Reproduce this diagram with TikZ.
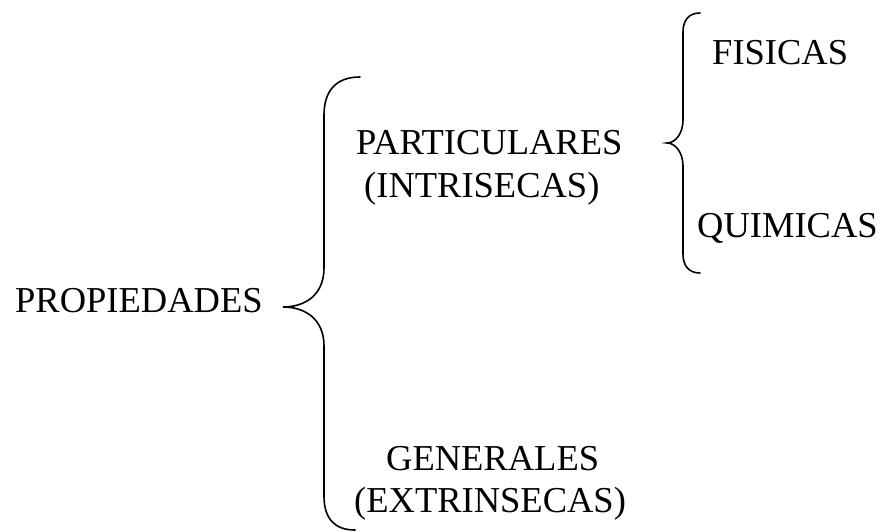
\documentclass[tikz,border=0pt]{standalone}
\usepackage{fontspec}
\setmainfont{Liberation Serif}
\begin{document}
\begin{tikzpicture}[x=1pt,y=-1pt,
  lbl/.style={anchor=base west,inner sep=0pt,font=\fontsize{36.5}{42}\selectfont},
  brace/.style={line width=1.6pt,line cap=round}]
\useasboundingbox (0,0) rectangle (889,532);
\node[lbl] (prop) at (15,312) {PROPIEDADES};
\node[lbl] (part) at (356,154) {PARTICULARES};
\node[lbl] (intr) at (364,197) {(INTRISECAS)};
\node[lbl] (fis) at (712,65) {FISICAS};
\node[lbl] (quim) at (697,237) {QUIMICAS};
\node[lbl] (gen) at (386,470) {GENERALES};
\node[lbl] (extr) at (354,512) {(EXTRINSECAS)};
% big brace
\coordinate (b1tip) at (283,307);
\draw[brace] (360,77) .. controls (335,77) and (324,92) .. (324,115)
  -- (324,268) .. controls (324,295) and (305,307) .. (b1tip)
  .. controls (305,307) and (324,319) .. (324,346)
  -- (324,496) .. controls (324,519) and (335,530) .. (355,530);
% small brace
\coordinate (b2tip) at (667,143);
\draw[brace] (700,13) .. controls (689,13) and (683,20) .. (683,32)
  -- (683,120) .. controls (683,134) and (675,143) .. (b2tip)
  .. controls (675,143) and (683,152) .. (683,166)
  -- (683,254) .. controls (683,266) and (689,273) .. (700,273);
\end{tikzpicture}
\end{document}
